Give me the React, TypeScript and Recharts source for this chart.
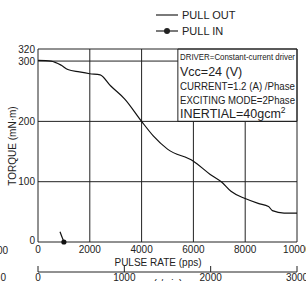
import * as React from 'react';
import { LineChart, Line, XAxis, YAxis, ReferenceLine, ReferenceArea } from 'recharts';

// pull-out torque curve (pps -> mN·m)
const pullOutPps = [0, 500, 900, 1150, 1600, 2000, 2400, 2800, 3350, 4000, 4450, 5000, 6000, 6650, 7100, 7450, 8000, 8500, 8900, 9050, 9500, 10000];
const pullOutTorque = [301, 300, 293, 286, 282, 279, 277, 259, 237, 200, 176, 154, 134, 112, 99, 84, 72, 64, 59, 52, 48, 48];

// pull-in curve: only a short stub near the origin
const pullInPps = [850, 1000];
const pullInTorque = [17, 0];

const ppsTicks = [0, 2000, 4000, 6000, 8000, 10000];
const rpmTicks = [0, 1000, 2000, 3000];
const torqueTicks = [0, 100, 200, 300, 320];

const boxLines = [
  'DRIVER=Constant-current driver',
  'Vcc=24 (V)',
  'CURRENT=1.2 (A) /Phase',
  'EXCITING MODE=2Phase',
];

const pullOut = pullOutPps.map((x, i) => ({ x, y: pullOutTorque[i] }));
const pullIn = pullInPps.map((x, i) => ({ x, y: pullInTorque[i] }));
// 10000 pps full scale = 3000 r/min
const rpmRows = rpmTicks.map((rpm) => ({ rpm }));

const FONT = '"Liberation Sans", Arial, sans-serif';
const INK = '#222';
const BOX_X1 = 5400;

const TorqueTick = (props: any) => {
  const { x, y, payload } = props;
  const dy = payload.value === 0 ? -2 : 0;
  return (
    <text x={x} y={y + dy} dy="0.355em" textAnchor="end" fontSize={10} fill={INK} fontFamily={FONT}>
      {payload.value}
    </text>
  );
};

const RpmTick = (props: any) => {
  const { x, y, payload } = props;
  return (
    <g>
      <line x1={x} y1={y - 6} x2={x} y2={y} stroke={INK} strokeWidth={1} />
      <text x={x} y={y + 9} textAnchor="middle" fontSize={10} fill={INK} fontFamily={FONT}>
        {payload.value}
      </text>
    </g>
  );
};

export default function App() {
  const last = pullIn.length - 1;
  return (
    <div style={{ position: 'relative', width: 306, height: 281, overflow: 'hidden', background: '#fff' }}>
      <style>{`body{margin:0}`}</style>
      <LineChart data={rpmRows} width={306} height={281} margin={{ top: 49, right: 9, bottom: 0, left: 0 }}>
        <XAxis
          type="number"
          dataKey="x"
          domain={[0, 10000]}
          ticks={ppsTicks}
          interval={0}
          tickLine={false}
          tickSize={0}
          tickMargin={4}
          axisLine={{ stroke: INK }}
          height={30}
          tick={{ fontSize: 10, fill: INK, fontFamily: FONT }}
        />
        <XAxis
          xAxisId="rpm"
          type="number"
          dataKey="rpm"
          domain={[0, 3000]}
          allowDataOverflow
          ticks={rpmTicks}
          interval={0}
          tickLine={false}
          tickSize={0}
          tickMargin={0}
          axisLine={{ stroke: INK }}
          height={9}
          tick={<RpmTick />}
        />
        <YAxis
          type="number"
          domain={[0, 320]}
          ticks={torqueTicks}
          interval={0}
          width={38}
          tickLine={false}
          tickSize={0}
          tickMargin={3}
          axisLine={{ stroke: INK }}
          tick={<TorqueTick />}
        />
        <ReferenceLine y={100} stroke={INK} />
        <ReferenceLine y={200} stroke={INK} />
        <ReferenceLine segment={[{ x: 0, y: 300 }, { x: BOX_X1, y: 300 }]} stroke={INK} />
        <ReferenceLine y={320} stroke={INK} />
        <ReferenceLine x={2000} stroke={INK} />
        <ReferenceLine x={4000} stroke={INK} />
        <ReferenceLine segment={[{ x: 6000, y: 0 }, { x: 6000, y: 200 }]} stroke={INK} />
        <ReferenceLine segment={[{ x: 8000, y: 0 }, { x: 8000, y: 200 }]} stroke={INK} />
        <ReferenceLine x={10000} stroke={INK} />
        <ReferenceArea x1={BOX_X1} x2={10000} y1={200} y2={320} fill="#fff" fillOpacity={1} stroke={INK} />
        <Line
          data={pullOut}
          dataKey="y"
          type="monotone"
          stroke="#111"
          strokeWidth={1.2}
          dot={false}
          isAnimationActive={false}
        />
        <Line
          data={pullIn}
          dataKey="y"
          type="linear"
          stroke="#111"
          strokeWidth={1.2}
          dot={(p: any) =>
            p.index === last ? (
              <circle key={`d${p.index}`} cx={p.cx} cy={p.cy} r={2.6} fill="#111" />
            ) : (
              <g key={`d${p.index}`} />
            )
          }
          isAnimationActive={false}
        />
      </LineChart>
      <svg
        width={306}
        height={281}
        style={{ position: 'absolute', left: 0, top: 0, pointerEvents: 'none' }}
        fontFamily={FONT}
        fill={INK}
      >
        {/* legend */}
        <line x1={156} y1={15} x2={178} y2={15} stroke={INK} strokeWidth={1.2} />
        <text x={182} y={19} fontSize={11}>PULL OUT</text>
        <line x1={156} y1={31} x2={178} y2={31} stroke={INK} strokeWidth={1.2} />
        <circle cx={167} cy={31} r={3} fill={INK} />
        <text x={182} y={35} fontSize={11}>PULL IN</text>

        {/* condition box text */}
        <text x={180} y={60} fontSize={9.5} textLength={115} lengthAdjust="spacingAndGlyphs">{boxLines[0]}</text>
        <text x={180} y={76} fontSize={12.5}>{boxLines[1]}</text>
        <text x={180} y={90} fontSize={10.5} textLength={115} lengthAdjust="spacingAndGlyphs">{boxLines[2]}</text>
        <text x={180} y={104} fontSize={10.5} textLength={115} lengthAdjust="spacingAndGlyphs">{boxLines[3]}</text>
        <text x={180} y={118} fontSize={12.5}>
          INERTIAL=40gcm<tspan dy={-5} fontSize={8.5}>2</tspan>
        </text>

        {/* axis titles */}
        <text transform="translate(16,146) rotate(-90)" textAnchor="middle" fontSize={10}>TORQUE (mN·m)</text>
        <text x={158} y={266} textAnchor="middle" fontSize={10}>PULSE RATE (pps)</text>
        <text x={168} y={287} textAnchor="middle" fontSize={10}>(r/min)</text>

        {/* clipped labels of the neighbouring chart */}
        <text x={8} y={254} textAnchor="end" fontSize={10}>00</text>
        <text x={6} y={281} textAnchor="end" fontSize={10}>0</text>
      </svg>
    </div>
  );
}
